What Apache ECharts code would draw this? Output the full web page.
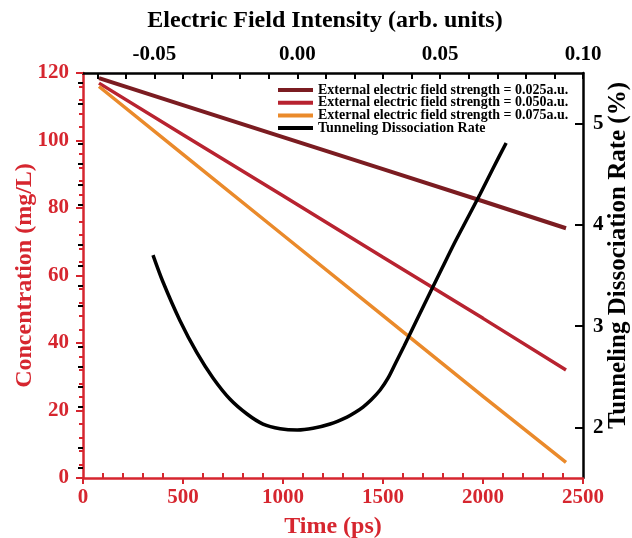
<!DOCTYPE html>
<html>
<head>
<meta charset="utf-8">
<script src="https://cdn.jsdelivr.net/npm/echarts@6/dist/echarts.min.js"></script>
<style>
  html, body { margin: 0; padding: 0; background: #fff; }
  #main { width: 632px; height: 538px; }
</style>
</head>
<body>
<div id="main"></div>
<script>
// time axis (ps) and concentration readings for the three field strengths
var times = [80, 500, 1000, 1500, 2000, 2415];
var conc025 = [118.5, 110.5, 101.0, 91.5, 82.0, 74.0];
var conc050 = [117.0, 101.7, 83.6, 65.4, 47.3, 32.0];
var conc075 = [116.0, 95.9, 72.0, 48.1, 24.2, 4.6];

// tunneling dissociation rate vs electric field (top / right axes)
var field = [-0.0505, -0.047, -0.041, -0.0351, -0.0295, -0.0236, -0.0176, -0.012, -0.006, 0.0,
  0.0055, 0.0115, 0.0174, 0.0202, 0.023, 0.0258, 0.029, 0.0318, 0.0346, 0.0374, 0.0402,
  0.043, 0.0465, 0.0507, 0.0552, 0.0598, 0.064, 0.0685, 0.0731];
var rate = [3.702, 3.436, 3.051, 2.735, 2.488, 2.280, 2.132, 2.033, 1.987, 1.974,
  1.991, 2.033, 2.102, 2.147, 2.201, 2.270, 2.369, 2.488, 2.646, 2.804, 2.967,
  3.130, 3.332, 3.574, 3.831, 4.078, 4.305, 4.557, 4.809];

// tick labels
var fieldLabels = [-0.05, 0.0, 0.05, 0.1];
var fieldTicks = [-0.07, -0.06, -0.05, -0.04, -0.03, -0.02, -0.01, 0, 0.01, 0.02, 0.03, 0.04, 0.05, 0.06, 0.07, 0.08, 0.09, 0.1];
var rateLabels = [2, 3, 4, 5];
var rateMinorTicks = [1.6, 1.8, 2.2, 2.4, 2.6, 2.8, 3.2, 3.4, 3.6, 3.8, 4.2, 4.4, 4.6, 4.8, 5.2, 5.4];
var timeMinorTicks = [100, 200, 300, 400, 600, 700, 800, 900, 1100, 1200, 1300, 1400,
  1600, 1700, 1800, 1900, 2100, 2200, 2300, 2400];

var seriesNames = [
  "External electric field strength = 0.025a.u.",
  "External electric field strength = 0.050a.u.",
  "External electric field strength = 0.075a.u.",
  "Tunneling Dissociation Rate"
];

var RED = "#d6262f";
var FONT = "'Liberation Serif', 'Times New Roman', serif";

function pairs(xs, ys) {
  return xs.map(function (x, i) { return [x, ys[i]]; });
}

var myChart = echarts.init(document.getElementById("main"));

var option = {
  animation: false,
  backgroundColor: "#fff",
  grid: { left: 83, right: 49, top: 73, bottom: 60, containLabel: false, outerBoundsMode: "none" },
  legend: {
    orient: "vertical",
    left: 273,
    top: 78,
    itemWidth: 35,
    itemHeight: 4,
    itemGap: -1.3,
    icon: "rect",
    data: seriesNames,
    textStyle: { fontFamily: FONT, fontWeight: "bold", fontSize: 14, lineHeight: 12, color: "#000" }
  },
  xAxis: [
    {
      type: "value", position: "bottom", min: 0, max: 2500, interval: 500,
      name: "Time (ps)", nameLocation: "middle", nameGap: 37, nameMoveOverlap: false,
      nameTextStyle: { fontFamily: FONT, fontWeight: "bold", fontSize: 24, color: RED },
      axisLine: { onZero: false, lineStyle: { color: RED, width: 2.5 } },
      axisTick: { inside: false, length: 6, lineStyle: { color: RED, width: 2 } },
      axisLabel: {
        fontFamily: FONT, fontWeight: "bold", fontSize: 21, color: RED, margin: 9,
        formatter: function (v) { return String(v); }
      },
      splitLine: { show: false }
    },
    {
      type: "value", position: "bottom", min: 0, max: 2500,
      axisLine: { show: false },
      axisTick: { inside: true, length: 5, customValues: timeMinorTicks, lineStyle: { color: RED, width: 2 } },
      axisLabel: { show: false },
      splitLine: { show: false }
    },
    {
      type: "value", position: "top", min: -0.075, max: 0.1,
      name: "Electric Field Intensity (arb. units)", nameLocation: "middle", nameGap: 40, nameMoveOverlap: false,
      nameTextStyle: { fontFamily: FONT, fontWeight: "bold", fontSize: 24, color: "#000", padding: [0, 16, 0, 0] },
      axisLine: { onZero: false, lineStyle: { color: "#000", width: 2.5 } },
      axisTick: { inside: true, length: 6, customValues: fieldTicks, lineStyle: { color: "#000", width: 2 } },
      axisLabel: {
        fontFamily: FONT, fontWeight: "bold", fontSize: 21, color: "#000", margin: 8,
        customValues: fieldLabels,
        formatter: function (v) { return v.toFixed(2); }
      },
      splitLine: { show: false }
    }
  ],
  yAxis: [
    {
      type: "value", position: "left", min: 0, max: 120, interval: 20,
      name: "Concentration (mg/L)", nameLocation: "middle", nameGap: 46, nameMoveOverlap: false,
      nameTextStyle: { fontFamily: FONT, fontWeight: "bold", fontSize: 24, color: RED },
      axisLine: { onZero: false, lineStyle: { color: RED, width: 2.5 } },
      axisTick: { inside: false, length: 7, lineStyle: { color: RED, width: 2 } },
      minorTick: { show: true, splitNumber: 5, length: 4, lineStyle: { color: RED, width: 2 } },
      axisLabel: { fontFamily: FONT, fontWeight: "bold", fontSize: 21, color: RED, margin: 14 },
      splitLine: { show: false }
    },
    {
      type: "value", position: "right", min: 1.5, max: 5.5,
      name: "Tunneling Dissociation Rate (%)", nameLocation: "middle", nameGap: 23, nameMoveOverlap: false,
      nameTextStyle: { fontFamily: FONT, fontWeight: "bold", fontSize: 25, color: "#000", padding: [0, 0, 0, 40] },
      axisLine: { onZero: false, lineStyle: { color: "#000", width: 2.5 } },
      axisTick: { inside: true, length: 8, customValues: rateLabels, lineStyle: { color: "#000", width: 2 } },
      axisLabel: { fontFamily: FONT, fontWeight: "bold", fontSize: 21, color: "#000", margin: 10, customValues: rateLabels },
      splitLine: { show: false }
    },
    {
      type: "value", position: "right", min: 1.5, max: 5.5,
      axisLine: { show: false },
      axisTick: { inside: true, length: 5, customValues: rateMinorTicks, lineStyle: { color: "#000", width: 2 } },
      axisLabel: { show: false },
      splitLine: { show: false }
    }
  ],
  series: [
    {
      name: seriesNames[0], type: "line", xAxisIndex: 0, yAxisIndex: 0,
      data: pairs(times, conc025), showSymbol: false, symbol: "none",
      lineStyle: { color: "#7b1c21", width: 4 }, itemStyle: { color: "#7b1c21" }
    },
    {
      name: seriesNames[1], type: "line", xAxisIndex: 0, yAxisIndex: 0,
      data: pairs(times, conc050), showSymbol: false, symbol: "none",
      lineStyle: { color: "#b82330", width: 3.5 }, itemStyle: { color: "#b82330" }
    },
    {
      name: seriesNames[2], type: "line", xAxisIndex: 0, yAxisIndex: 0,
      data: pairs(times, conc075), showSymbol: false, symbol: "none",
      lineStyle: { color: "#ea8a2b", width: 3.5 }, itemStyle: { color: "#ea8a2b" }
    },
    {
      name: seriesNames[3], type: "line", xAxisIndex: 2, yAxisIndex: 1,
      data: pairs(field, rate), showSymbol: false, symbol: "none", smooth: 0.3,
      lineStyle: { color: "#000", width: 3.5 }, itemStyle: { color: "#000" }
    }
  ]
};

myChart.setOption(option);
window.addEventListener("resize", function () {
  myChart.resize();
});
</script>
</body>
</html>
